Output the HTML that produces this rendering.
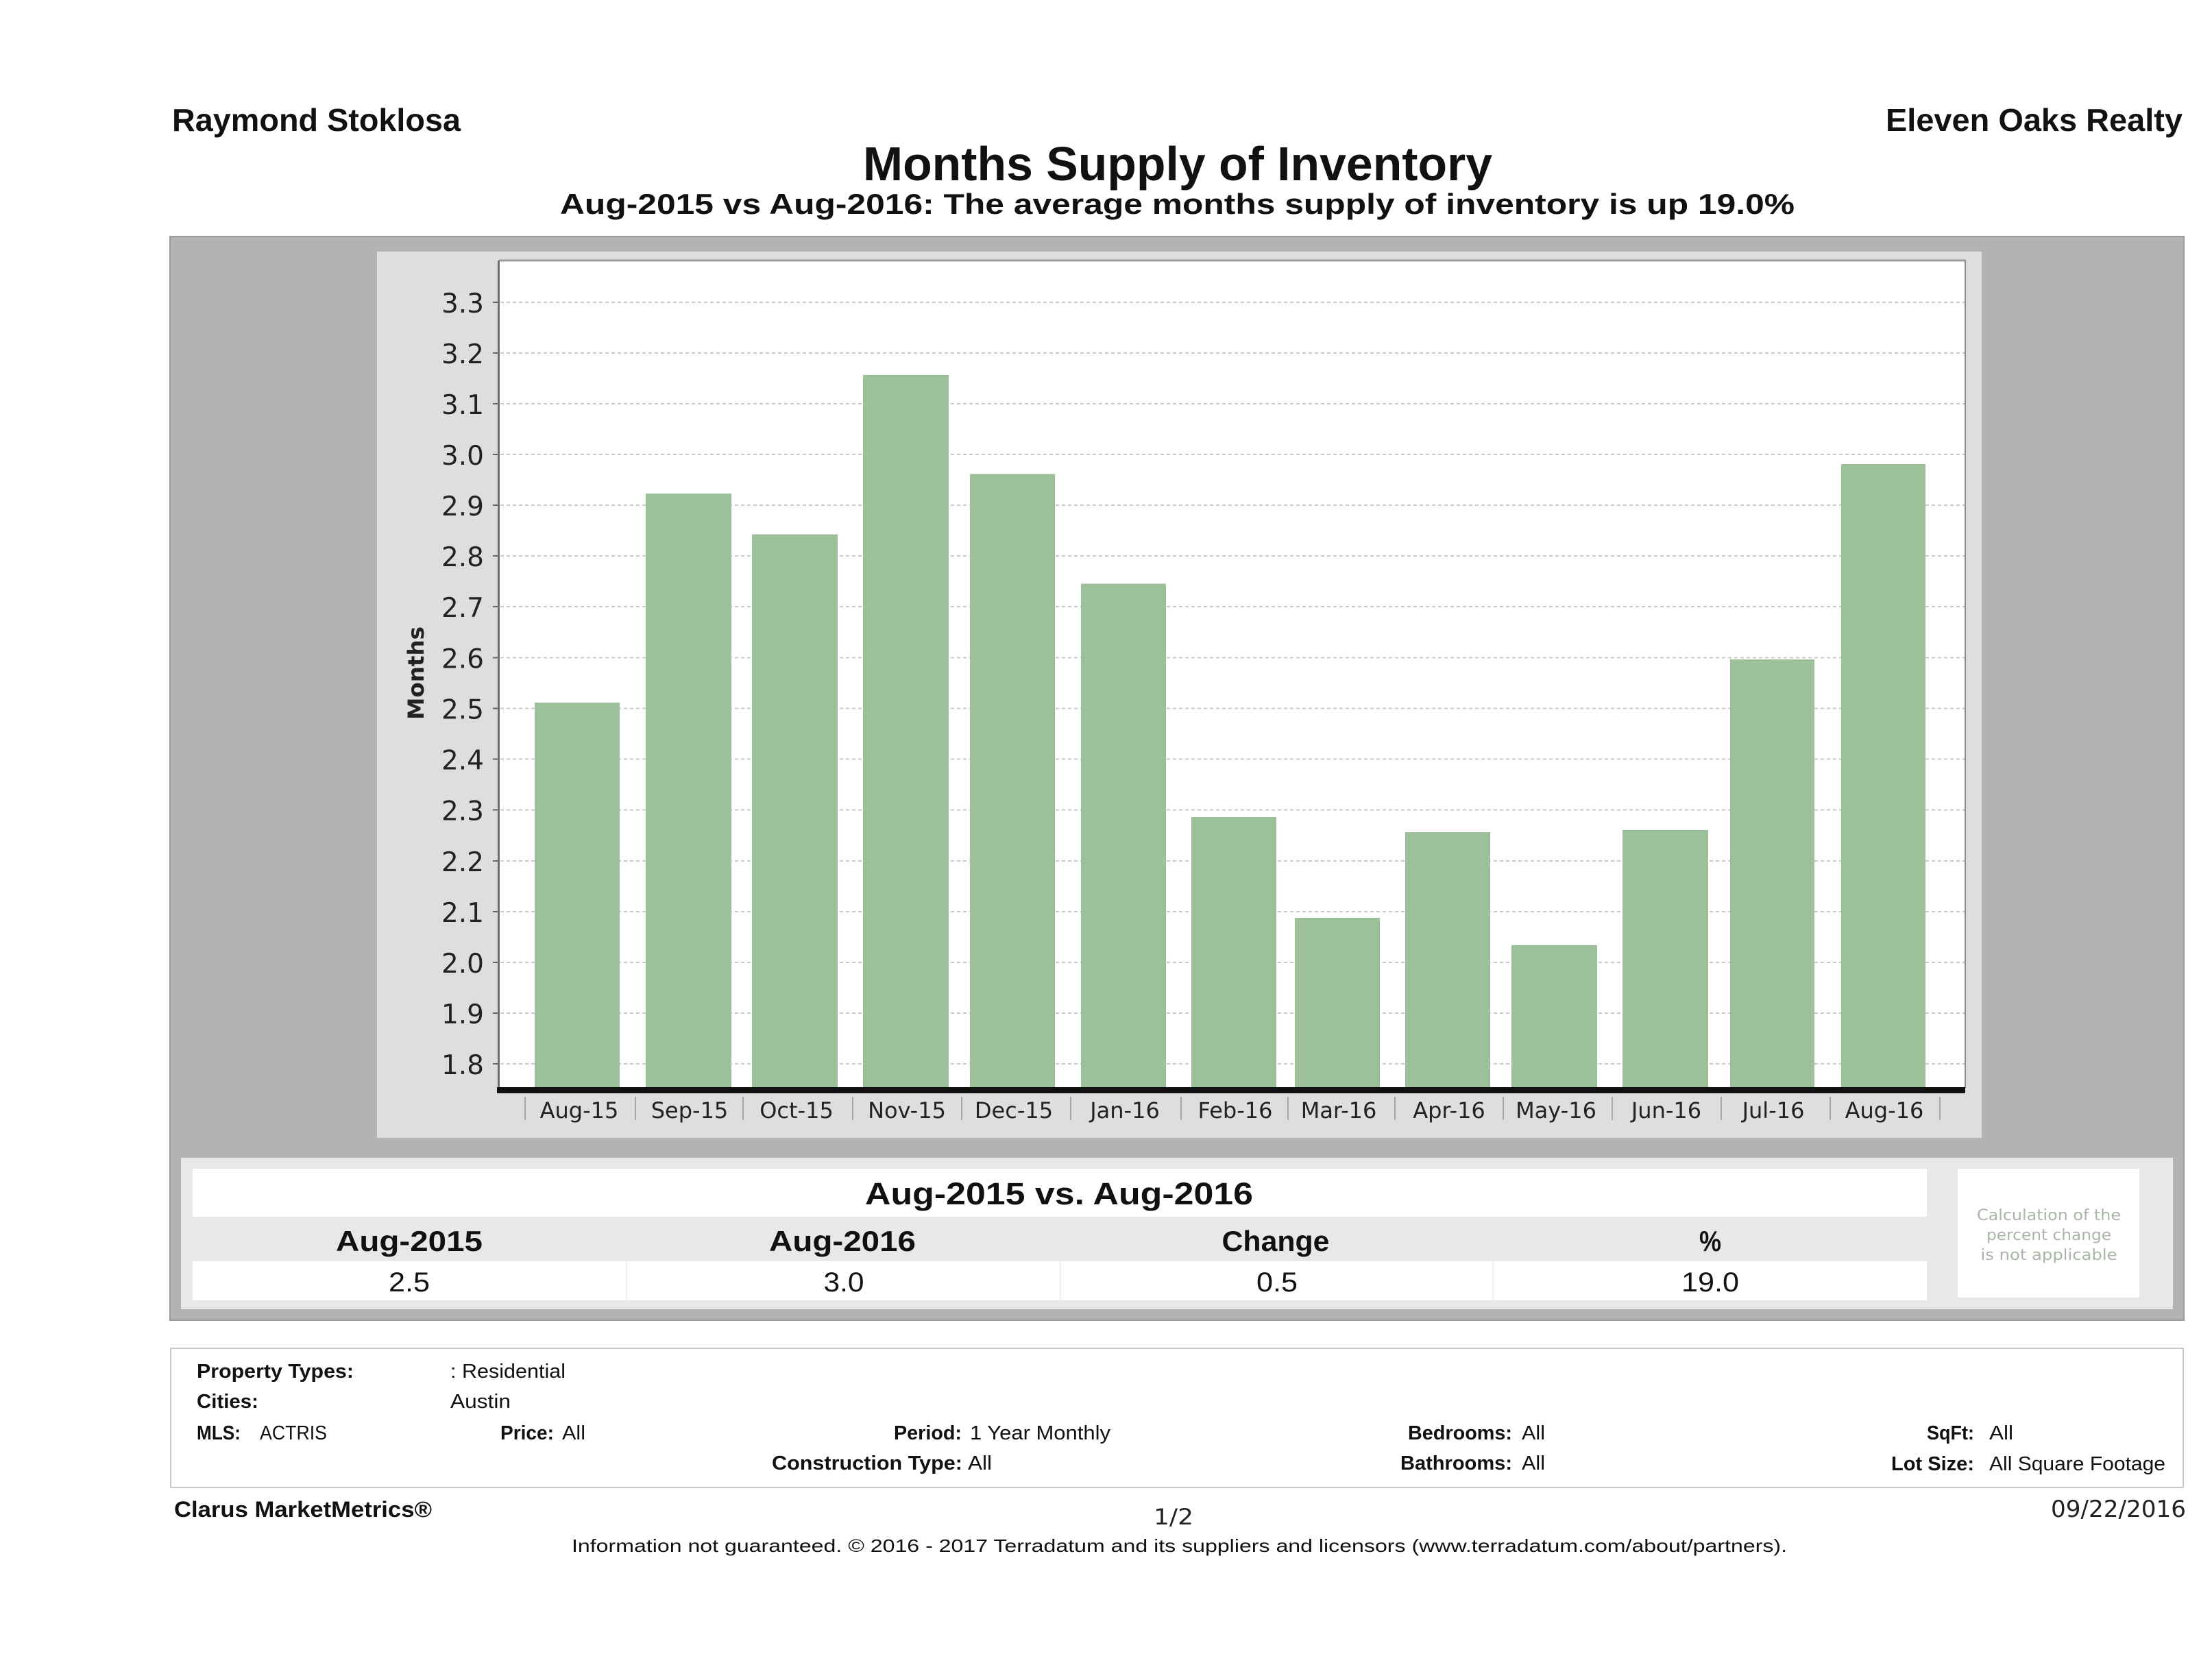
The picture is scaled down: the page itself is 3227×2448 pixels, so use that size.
<!DOCTYPE html>
<html>
<head>
<meta charset="utf-8">
<style>
  html,body{margin:0;padding:0;background:#ffffff;}
  svg{display:block;}
  .lb{font-family:"Liberation Sans",Arial,sans-serif;font-weight:bold;fill:#111;}
  .lr{font-family:"Liberation Sans",Arial,sans-serif;font-weight:normal;fill:#111;}
  .dj{font-family:"DejaVu Sans","Liberation Sans",sans-serif;fill:#222;}
</style>
</head>
<body>
<svg width="3227" height="2448" viewBox="0 0 3227 2448" xmlns="http://www.w3.org/2000/svg">
  <rect x="0" y="0" width="3227" height="2448" fill="#ffffff"/>

  <!-- Header -->
  <text class="lb" x="251" y="191" font-size="46" textLength="421" lengthAdjust="spacingAndGlyphs">Raymond Stoklosa</text>
  <text class="lb" x="2751" y="191" font-size="46" textLength="433" lengthAdjust="spacingAndGlyphs">Eleven Oaks Realty</text>
  <text class="lb" x="1259" y="263" font-size="70" textLength="918" lengthAdjust="spacingAndGlyphs">Months Supply of Inventory</text>
  <text class="lb" x="817" y="312" font-size="42" textLength="1801" lengthAdjust="spacingAndGlyphs">Aug-2015 vs Aug-2016: The average months supply of inventory is up 19.0%</text>

  <!-- Gray outer box -->
  <rect x="248" y="345" width="2938" height="1581" fill="#b3b3b3" stroke="#9a9a9a" stroke-width="2"/>

  <!-- Chart panel -->
  <rect x="550" y="367" width="2341" height="1293" fill="#dedede"/>
  <rect x="728" y="381" width="2139" height="1206" fill="#ffffff"/>
  <line x1="728" y1="380" x2="2868" y2="380" stroke="#9c9c9c" stroke-width="3"/>
  <line x1="2867" y1="380" x2="2867" y2="1587" stroke="#8c8c8c" stroke-width="2"/>

  <!-- Gridlines -->
  <g stroke="#c9c9c9" stroke-width="2" stroke-dasharray="5,4">
    <line x1="730" y1="441" x2="2866" y2="441"/>
    <line x1="730" y1="515" x2="2866" y2="515"/>
    <line x1="730" y1="589" x2="2866" y2="589"/>
    <line x1="730" y1="663" x2="2866" y2="663"/>
    <line x1="730" y1="737" x2="2866" y2="737"/>
    <line x1="730" y1="811" x2="2866" y2="811"/>
    <line x1="730" y1="885" x2="2866" y2="885"/>
    <line x1="730" y1="959.5" x2="2866" y2="959.5"/>
    <line x1="730" y1="1033.5" x2="2866" y2="1033.5"/>
    <line x1="730" y1="1107.5" x2="2866" y2="1107.5"/>
    <line x1="730" y1="1181.5" x2="2866" y2="1181.5"/>
    <line x1="730" y1="1256" x2="2866" y2="1256"/>
    <line x1="730" y1="1330" x2="2866" y2="1330"/>
    <line x1="730" y1="1404" x2="2866" y2="1404"/>
    <line x1="730" y1="1478" x2="2866" y2="1478"/>
    <line x1="730" y1="1552" x2="2866" y2="1552"/>
  </g>

  <!-- Bars -->
  <g fill="#9cc19a">
    <rect x="780" y="1025" width="124" height="562"/>
    <rect x="942" y="720" width="125" height="867"/>
    <rect x="1097" y="779.5" width="125" height="807.5"/>
    <rect x="1259" y="547" width="125" height="1040"/>
    <rect x="1415" y="691.5" width="124" height="895.5"/>
    <rect x="1577" y="851.5" width="124" height="735.5"/>
    <rect x="1738" y="1192" width="124" height="395"/>
    <rect x="1889" y="1339" width="124" height="248"/>
    <rect x="2050" y="1214" width="124" height="373"/>
    <rect x="2205" y="1379" width="125" height="208"/>
    <rect x="2367" y="1211" width="125" height="376"/>
    <rect x="2524" y="962" width="123" height="625"/>
    <rect x="2686" y="677" width="123" height="910"/>
  </g>

  <!-- Left axis line -->
  <line x1="727.5" y1="380" x2="727.5" y2="1590" stroke="#6e6e6e" stroke-width="3"/>
  <!-- Y ticks -->
  <g stroke="#666" stroke-width="2">
    <line x1="719" y1="441" x2="727" y2="441"/>
    <line x1="719" y1="515" x2="727" y2="515"/>
    <line x1="719" y1="589" x2="727" y2="589"/>
    <line x1="719" y1="663" x2="727" y2="663"/>
    <line x1="719" y1="737" x2="727" y2="737"/>
    <line x1="719" y1="811" x2="727" y2="811"/>
    <line x1="719" y1="885" x2="727" y2="885"/>
    <line x1="719" y1="959.5" x2="727" y2="959.5"/>
    <line x1="719" y1="1033.5" x2="727" y2="1033.5"/>
    <line x1="719" y1="1107.5" x2="727" y2="1107.5"/>
    <line x1="719" y1="1181.5" x2="727" y2="1181.5"/>
    <line x1="719" y1="1256" x2="727" y2="1256"/>
    <line x1="719" y1="1330" x2="727" y2="1330"/>
    <line x1="719" y1="1404" x2="727" y2="1404"/>
    <line x1="719" y1="1478" x2="727" y2="1478"/>
    <line x1="719" y1="1552" x2="727" y2="1552"/>
  </g>
  <!-- Y labels -->
  <g class="dj" font-size="39" text-anchor="end">
    <text x="706" y="456">3.3</text>
    <text x="706" y="530">3.2</text>
    <text x="706" y="604">3.1</text>
    <text x="706" y="678">3.0</text>
    <text x="706" y="752">2.9</text>
    <text x="706" y="826">2.8</text>
    <text x="706" y="900">2.7</text>
    <text x="706" y="974.5">2.6</text>
    <text x="706" y="1048.5">2.5</text>
    <text x="706" y="1122.5">2.4</text>
    <text x="706" y="1196.5">2.3</text>
    <text x="706" y="1271">2.2</text>
    <text x="706" y="1345">2.1</text>
    <text x="706" y="1419">2.0</text>
    <text x="706" y="1493">1.9</text>
    <text x="706" y="1567">1.8</text>
  </g>
  <!-- Y axis title -->
  <text class="dj" font-weight="bold" font-size="32" fill="#111" text-anchor="middle" transform="translate(618,982) rotate(-90)" textLength="136" lengthAdjust="spacingAndGlyphs">Months</text>

  <!-- X axis -->
  <rect x="725" y="1586" width="2142" height="9" fill="#111"/>
  <g stroke="#a8a8a8" stroke-width="2">
    <line x1="766" y1="1600" x2="766" y2="1634"/>
    <line x1="927" y1="1600" x2="927" y2="1634"/>
    <line x1="1084" y1="1600" x2="1084" y2="1634"/>
    <line x1="1244" y1="1600" x2="1244" y2="1634"/>
    <line x1="1403" y1="1600" x2="1403" y2="1634"/>
    <line x1="1562" y1="1600" x2="1562" y2="1634"/>
    <line x1="1723" y1="1600" x2="1723" y2="1634"/>
    <line x1="1879" y1="1600" x2="1879" y2="1634"/>
    <line x1="2035" y1="1600" x2="2035" y2="1634"/>
    <line x1="2193" y1="1600" x2="2193" y2="1634"/>
    <line x1="2352" y1="1600" x2="2352" y2="1634"/>
    <line x1="2511" y1="1600" x2="2511" y2="1634"/>
    <line x1="2670" y1="1600" x2="2670" y2="1634"/>
    <line x1="2830" y1="1600" x2="2830" y2="1634"/>
  </g>
  <g class="dj" font-size="32" text-anchor="middle" fill="#1a1a1a">
    <text x="845" y="1631">Aug-15</text>
    <text x="1006" y="1631">Sep-15</text>
    <text x="1162" y="1631">Oct-15</text>
    <text x="1323" y="1631">Nov-15</text>
    <text x="1479" y="1631">Dec-15</text>
    <text x="1641" y="1631">Jan-16</text>
    <text x="1802" y="1631">Feb-16</text>
    <text x="1953" y="1631">Mar-16</text>
    <text x="2114" y="1631">Apr-16</text>
    <text x="2270" y="1631">May-16</text>
    <text x="2431" y="1631">Jun-16</text>
    <text x="2587" y="1631">Jul-16</text>
    <text x="2749" y="1631">Aug-16</text>
  </g>

  <!-- Stats panel -->
  <rect x="264" y="1689" width="2906" height="221" fill="#e8e8e8"/>
  <rect x="281" y="1705" width="2530" height="70" fill="#ffffff"/>
  <rect x="281" y="1840" width="2530" height="57" fill="#ffffff"/>
  <g stroke="#f0f0f0" stroke-width="2">
    <line x1="914" y1="1840" x2="914" y2="1897"/>
    <line x1="1547" y1="1840" x2="1547" y2="1897"/>
    <line x1="2178" y1="1840" x2="2178" y2="1897"/>
  </g>
  <rect x="2856" y="1705" width="265" height="188" fill="#ffffff"/>

  <text class="lb" x="1545" y="1757" font-size="45" text-anchor="middle" textLength="566" lengthAdjust="spacingAndGlyphs">Aug-2015 vs. Aug-2016</text>
  <text class="lb" x="597" y="1825" font-size="42" text-anchor="middle" textLength="214" lengthAdjust="spacingAndGlyphs">Aug-2015</text>
  <text class="lb" x="1229" y="1825" font-size="42" text-anchor="middle" textLength="214" lengthAdjust="spacingAndGlyphs">Aug-2016</text>
  <text class="lb" x="1861" y="1825" font-size="42" text-anchor="middle" textLength="157" lengthAdjust="spacingAndGlyphs">Change</text>
  <text class="lb" x="2495" y="1825" font-size="42" text-anchor="middle" textLength="32" lengthAdjust="spacingAndGlyphs">%</text>

  <text class="lr" x="597" y="1884" font-size="40" text-anchor="middle" textLength="60" lengthAdjust="spacingAndGlyphs">2.5</text>
  <text class="lr" x="1231" y="1884" font-size="40" text-anchor="middle" textLength="59" lengthAdjust="spacingAndGlyphs">3.0</text>
  <text class="lr" x="1863" y="1884" font-size="40" text-anchor="middle" textLength="60" lengthAdjust="spacingAndGlyphs">0.5</text>
  <text class="lr" x="2495" y="1884" font-size="40" text-anchor="middle" textLength="84" lengthAdjust="spacingAndGlyphs">19.0</text>

  <g class="dj" font-size="22" text-anchor="middle" style="fill:#a9b5a7">
    <text x="2989" y="1780" textLength="210" lengthAdjust="spacingAndGlyphs">Calculation of the</text>
    <text x="2989" y="1809" textLength="182" lengthAdjust="spacingAndGlyphs">percent change</text>
    <text x="2989" y="1838" textLength="199" lengthAdjust="spacingAndGlyphs">is not applicable</text>
  </g>

  <!-- Info box -->
  <rect x="249" y="1967" width="2936" height="203" fill="#ffffff" stroke="#c8c8c8" stroke-width="2"/>
  <g font-size="29">
    <text class="lb" x="287" y="2010" textLength="229" lengthAdjust="spacingAndGlyphs">Property Types:</text>
    <text class="lr" x="657" y="2010" textLength="168" lengthAdjust="spacingAndGlyphs">: Residential</text>
    <text class="lb" x="287" y="2054" textLength="90" lengthAdjust="spacingAndGlyphs">Cities:</text>
    <text class="lr" x="657" y="2054" textLength="88" lengthAdjust="spacingAndGlyphs">Austin</text>
    <text class="lb" x="287" y="2100" textLength="64" lengthAdjust="spacingAndGlyphs">MLS:</text>
    <text class="lr" x="379" y="2100" textLength="98" lengthAdjust="spacingAndGlyphs">ACTRIS</text>
    <text class="lb" x="730" y="2100" textLength="78" lengthAdjust="spacingAndGlyphs">Price:</text>
    <text class="lr" x="820" y="2100" textLength="34" lengthAdjust="spacingAndGlyphs">All</text>
    <text class="lb" x="1304" y="2100" textLength="99" lengthAdjust="spacingAndGlyphs">Period:</text>
    <text class="lr" x="1415" y="2100" textLength="205" lengthAdjust="spacingAndGlyphs">1 Year Monthly</text>
    <text class="lb" x="1126" y="2144" textLength="278" lengthAdjust="spacingAndGlyphs">Construction Type:</text>
    <text class="lr" x="1412" y="2144" textLength="35" lengthAdjust="spacingAndGlyphs">All</text>
    <text class="lb" x="2054" y="2100" textLength="152" lengthAdjust="spacingAndGlyphs">Bedrooms:</text>
    <text class="lr" x="2220" y="2100" textLength="34" lengthAdjust="spacingAndGlyphs">All</text>
    <text class="lb" x="2043" y="2144" textLength="163" lengthAdjust="spacingAndGlyphs">Bathrooms:</text>
    <text class="lr" x="2220" y="2144" textLength="34" lengthAdjust="spacingAndGlyphs">All</text>
    <text class="lb" x="2811" y="2100" textLength="69" lengthAdjust="spacingAndGlyphs">SqFt:</text>
    <text class="lr" x="2902" y="2100" textLength="35" lengthAdjust="spacingAndGlyphs">All</text>
    <text class="lb" x="2759" y="2145" textLength="121" lengthAdjust="spacingAndGlyphs">Lot Size:</text>
    <text class="lr" x="2902" y="2145" textLength="257" lengthAdjust="spacingAndGlyphs">All Square Footage</text>
  </g>

  <!-- Footer -->
  <text class="lb" x="254" y="2213" font-size="32" textLength="376" lengthAdjust="spacingAndGlyphs">Clarus MarketMetrics®</text>
  <text class="dj" x="1712" y="2224" font-size="32" text-anchor="middle" fill="#111" textLength="58" lengthAdjust="spacingAndGlyphs">1/2</text>
  <text class="dj" x="2992" y="2213" font-size="34" fill="#111" textLength="197" lengthAdjust="spacingAndGlyphs">09/22/2016</text>
  <text class="lr" x="834" y="2264" font-size="26" textLength="1773" lengthAdjust="spacingAndGlyphs">Information not guaranteed. © 2016 - 2017 Terradatum and its suppliers and licensors (www.terradatum.com/about/partners).</text>
</svg>
</body>
</html>
